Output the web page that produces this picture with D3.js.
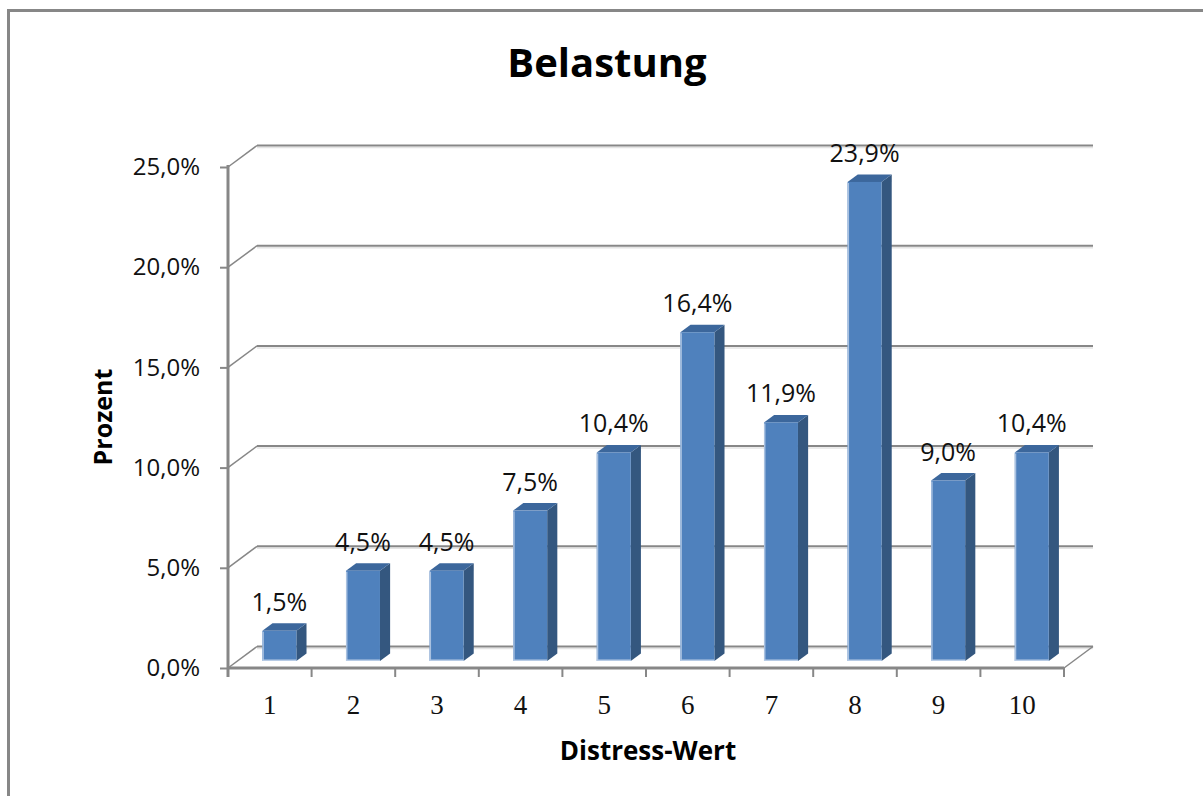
<!DOCTYPE html>
<html lang="de">
<head>
<meta charset="utf-8">
<title>Belastung</title>
<script src="https://cdn.jsdelivr.net/npm/d3@7"></script>
<style>
  html, body { margin: 0; padding: 0; background: #fff; }
  svg { display: block; }
</style>
</head>
<body>
<svg id="chart" width="1203" height="796"></svg>
<script>
// Distress-Wert categories and share of respondents (in percent)
const categories = ["1", "2", "3", "4", "5", "6", "7", "8", "9", "10"];
const values = [1.5, 4.5, 4.5, 7.5, 10.4, 16.4, 11.9, 23.9, 9.0, 10.4];
const yTicks = [0, 5, 10, 15, 20, 25];

const titleText = "Belastung";
const xTitle = "Distress-Wert";
const yTitle = "Prozent";

const W = 1203, H = 796;
const svg = d3.select("#chart");

// German number formatting (decimal comma)
const de = d3.formatLocale({ decimal: ",", thousands: ".", grouping: [3], currency: ["", " €"] });
const fmt = v => de.format(".1f")(v) + "%";

// Front plane of the 3D plot
const x = d3.scaleBand().domain(categories).range([228, 1064]).padding(0);
const y = d3.scaleLinear().domain([0, 25]).range([668, 167]);

// Depth of the floor/walls (projection of the back plane)
const DX = 29, DY = -21.5;
const proj = (px, py, d) => [px + d * DX, py + d * DY];

// Bars sit between these depth fractions
const d0 = 0.33, d1 = 0.68;
const barW = 34;

const gridColor = "#878787";

// Outer frame
svg.append("path")
  .attr("d", `M8.5,${H} V10.5 H${W}`)
  .attr("fill", "none").attr("stroke", "#878787").attr("stroke-width", 3);

// Title
svg.append("text")
  .attr("x", 607).attr("y", 77)
  .attr("text-anchor", "middle")
  .attr("font-family", "'Open Sans', sans-serif")
  .attr("font-weight", 700).attr("font-size", 40)
  .attr("fill", "#000")
  .text(titleText);

const grid = svg.append("g");
const x0 = x.range()[0], x1 = x.range()[1];

// Back-wall gridlines and left-wall diagonals
yTicks.forEach(t => {
  const yf = y(t);
  const [bx0, by] = proj(x0, yf, 1);
  const [bx1] = proj(x1, yf, 1);
  // soft shadow under each line
  grid.append("line")
    .attr("x1", bx0).attr("x2", bx1).attr("y1", by + 2).attr("y2", by + 2)
    .attr("stroke", "#e4e4e4").attr("stroke-width", 1.5);
  grid.append("line")
    .attr("x1", bx0).attr("x2", bx1).attr("y1", by).attr("y2", by)
    .attr("stroke", gridColor).attr("stroke-width", 2);
  grid.append("line")
    .attr("x1", x0).attr("y1", yf).attr("x2", bx0).attr("y2", by)
    .attr("stroke", gridColor).attr("stroke-width", 1.5);
});

// Floor: right-hand diagonal
{
  const [bx, by] = proj(x1, y(0), 1);
  grid.append("line")
    .attr("x1", x1).attr("y1", y(0)).attr("x2", bx).attr("y2", by)
    .attr("stroke", gridColor).attr("stroke-width", 1.5);
}

// Bars (front, top, side faces)
const bars = svg.append("g");
categories.forEach((c, i) => {
  const v = values[i];
  const cx = x(c) + x.bandwidth() / 2;
  const fl = cx - barW / 2, fr = cx + barW / 2;
  const [xl, yb] = proj(fl, y(0), d0);
  const [xr] = proj(fr, y(0), d0);
  const [, yt] = proj(fl, y(v), d0);
  const [xlb, ytb] = proj(fl, y(v), d1);
  const [xrb, ybb] = proj(fr, y(0), d1);
  const [, ytbr] = proj(fr, y(v), d1);

  // side face
  bars.append("polygon")
    .attr("points", [[xr, yt], [xrb, ytbr], [xrb, ybb], [xr, yb]].join(" "))
    .attr("fill", "#34577f");
  // top face
  bars.append("polygon")
    .attr("points", [[xl, yt], [xlb, ytb], [xrb, ytbr], [xr, yt]].join(" "))
    .attr("fill", "#3c679c");
  // front face
  bars.append("rect")
    .attr("x", xl).attr("y", yt).attr("width", xr - xl).attr("height", yb - yt)
    .attr("fill", "#4f81bd");
  // light edge highlights
  bars.append("line")
    .attr("x1", xl + 0.75).attr("x2", xl + 0.75).attr("y1", yt + 1).attr("y2", yb)
    .attr("stroke", "#a9c1e0").attr("stroke-width", 1.5);
  bars.append("line")
    .attr("x1", xl).attr("x2", xr).attr("y1", yb - 0.75).attr("y2", yb - 0.75)
    .attr("stroke", "#b8cce6").attr("stroke-width", 1.5);

  // value label
  svg.append("text")
    .attr("x", (xl + xr) / 2).attr("y", yt - 20)
    .attr("text-anchor", "middle")
    .attr("font-family", "'Open Sans', sans-serif")
    .attr("font-size", 25).attr("fill", "#111")
    .text(fmt(v));
});

// Front x axis (floor edge) with ticks between categories
const xAxis = d3.axisBottom(x).tickSize(0).tickPadding(0);
const gx = svg.append("g").attr("transform", `translate(0,${y(0)})`).call(xAxis);
gx.select(".domain").remove();
gx.selectAll(".tick text")
  .attr("y", 46)
  .attr("dy", 0)
  .attr("font-family", "'Liberation Serif', serif")
  .attr("font-size", 27).attr("fill", "#111");
svg.append("line")
  .attr("x1", x0 - 1).attr("x2", x1).attr("y1", y(0)).attr("y2", y(0))
  .attr("stroke", gridColor).attr("stroke-width", 3);
const bounds = categories.map(c => x(c)).concat([x1]);
svg.append("g").selectAll("line").data(bounds).join("line")
  .attr("x1", d => d).attr("x2", d => d)
  .attr("y1", y(0)).attr("y2", y(0) + 9)
  .attr("stroke", gridColor).attr("stroke-width", 2);

// Front y axis
const yAxis = d3.axisLeft(y).tickValues(yTicks).tickFormat(fmt).tickSize(8).tickPadding(20);
const gy = svg.append("g").attr("transform", `translate(${x0},0)`).call(yAxis);
gy.select(".domain").remove();
gy.selectAll(".tick line").attr("stroke", gridColor).attr("stroke-width", 2);
gy.selectAll(".tick text")
  .attr("font-family", "'Open Sans', sans-serif")
  .attr("font-size", 24).attr("fill", "#111");
svg.append("line")
  .attr("x1", x0).attr("x2", x0).attr("y1", y(25) - 2).attr("y2", y(0) + 9)
  .attr("stroke", gridColor).attr("stroke-width", 3);

// Axis titles
svg.append("text")
  .attr("x", 648).attr("y", 760)
  .attr("text-anchor", "middle")
  .attr("font-family", "'Open Sans', sans-serif")
  .attr("font-weight", 700).attr("font-size", 26).attr("fill", "#000")
  .text(xTitle);

svg.append("text")
  .attr("transform", "translate(112,417) rotate(-90)")
  .attr("text-anchor", "middle")
  .attr("font-family", "'Open Sans', sans-serif")
  .attr("font-weight", 700).attr("font-size", 25).attr("fill", "#000")
  .text(yTitle);
</script>
</body>
</html>
